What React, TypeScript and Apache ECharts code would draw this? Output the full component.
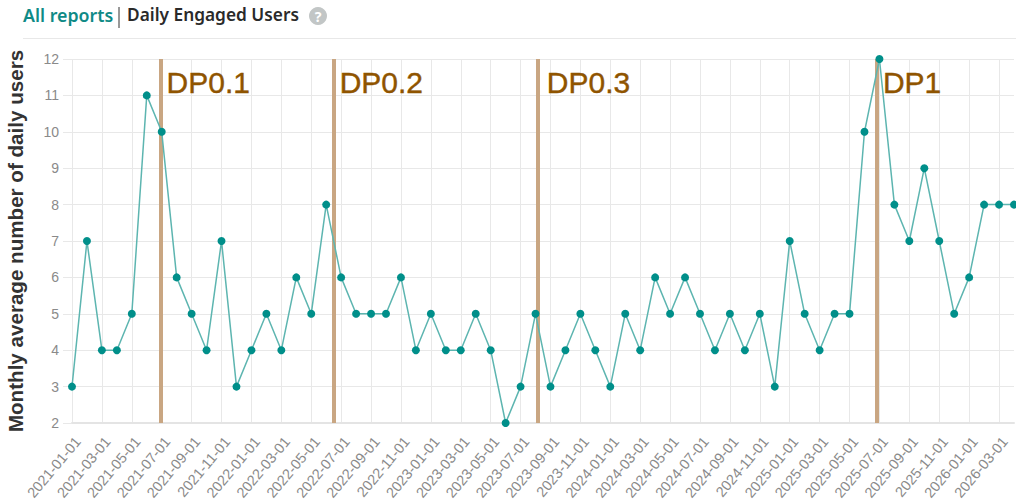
import React, { useEffect, useRef } from "react";
import * as echarts from "echarts";

const years = [2021, 2022, 2023, 2024, 2025, 2026];
const months = ["01", "02", "03", "04", "05", "06", "07", "08", "09", "10", "11", "12"];
const categories: string[] = [];
years.forEach((y) => months.forEach((m) => categories.push(`${y}-${m}-01`)));
const dates = categories.slice(0, 64);
const users = [
  3, 7, 4, 4, 5, 11, 10, 6, 5, 4, 7, 3,
  4, 5, 4, 6, 5, 8, 6, 5, 5, 5, 6, 4,
  5, 4, 4, 5, 4, 2, 3, 5, 3, 4, 5, 4,
  3, 5, 4, 6, 5, 6, 5, 4, 5, 4, 5, 3,
  7, 5, 4, 5, 5, 10, 12, 8, 7, 9, 7, 5,
  6, 8, 8, 8,
];
const dpNames = ["DP0.1", "DP0.2", "DP0.3", "DP1"];
const dpPositions = [5.92, 17.5, 31.15, 53.83];

export default function App() {
  const ref = useRef<HTMLDivElement>(null);
  useEffect(() => {
    document.body.style.margin = "0";
    const chart = echarts.init(ref.current!, undefined, { renderer: "svg" });
    chart.setOption({
      animation: false,
      backgroundColor: "#fff",
      grid: { left: 72, right: 2, top: 59, bottom: 80, containLabel: false, outerBoundsMode: "none" },
      xAxis: [
        {
          type: "category",
          data: dates,
          boundaryGap: false,
          axisLine: { show: true, lineStyle: { color: "#e4e4e4", width: 2 } },
          axisTick: { show: false },
          splitLine: { show: true, interval: 1, lineStyle: { color: "#e8e8e8", width: 1 } },
          axisLabel: {
            interval: 1,
            rotate: 50,
            verticalAlign: "top",
            color: "#8a8a8a",
            fontSize: 14.5,
            fontFamily: "Liberation Sans",
            margin: 11,
            hideOverlap: false,
          },
        },
        { type: "value", min: 0, max: 63, show: false },
      ],
      yAxis: {
        type: "value",
        min: 2,
        max: 12,
        interval: 1,
        name: "Monthly average number of daily users",
        nameLocation: "middle",
        nameGap: 46,
        nameTextStyle: {
          color: "#333",
          fontSize: 20.6,
          fontWeight: "bold",
          fontFamily: "Liberation Sans",
        },
        axisLine: { show: false },
        axisTick: { show: true, length: 9, lineStyle: { color: "#e8e8e8", width: 1 } },
        splitLine: { show: true, lineStyle: { color: "#e8e8e8", width: 1 } },
        axisLabel: { color: "#8a8a8a", fontSize: 14, fontFamily: "Liberation Sans", margin: 13 },
      },
      series: [
        {
          type: "line",
          data: users,
          symbol: "circle",
          symbolSize: 8,
          clip: false,
          itemStyle: { color: "#008f8a" },
          lineStyle: { color: "#5db5b0", width: 1.5 },
          z: 3,
        },
        {
          type: "scatter",
          xAxisIndex: 1,
          data: dpPositions.map((p, i) => ({
            name: dpNames[i],
            value: [p, 11.36],
            label: { distance: i === 2 ? 9 : 6 },
          })),
          symbolSize: 0,
          silent: true,
          z: 4,
          itemStyle: { opacity: 1 },
          label: {
            show: true,
            position: "right",
            distance: 6,
            formatter: "{b}",
            color: "#8f5400",
            fontSize: 30,
            fontFamily: "Liberation Sans",
            textBorderColor: "#8f5400",
            textBorderWidth: 0.4,
          },
          markLine: {
            silent: true,
            symbol: "none",
            label: { show: false },
            lineStyle: { color: "#c9a682", width: 4, type: "solid", opacity: 1 },
            data: dpPositions.map((p) => ({ xAxis: p })),
            z: 2,
          },
        },
      ],
      graphic: [
        { type: "text", x: 23, y: 6, style: { text: "All reports", fill: "#0f8a86", font: "600 17.8px 'Noto Sans'" } },
        { type: "line", shape: { x1: 119, y1: 7, x2: 119, y2: 28 }, style: { stroke: "#333", lineWidth: 1 } },
        { type: "text", x: 127, y: 6, style: { text: "Daily Engaged Users", fill: "#2a2a2a", font: "600 17.3px 'Noto Sans'" } },
        { type: "circle", shape: { cx: 318, cy: 16, r: 9 }, style: { fill: "#c2c6c6" } },
        { type: "text", x: 318, y: 16, style: { text: "?", fill: "#fff", font: "bold 14px 'Noto Sans'", align: "center", verticalAlign: "middle" } },
        { type: "line", shape: { x1: 23, y1: 38.5, x2: 1016, y2: 38.5 }, style: { stroke: "#e8e8e8", lineWidth: 1 } },
      ],
    });
    return () => chart.dispose();
  }, []);
  return <div ref={ref} style={{ width: 1016, height: 503 }} />;
}
